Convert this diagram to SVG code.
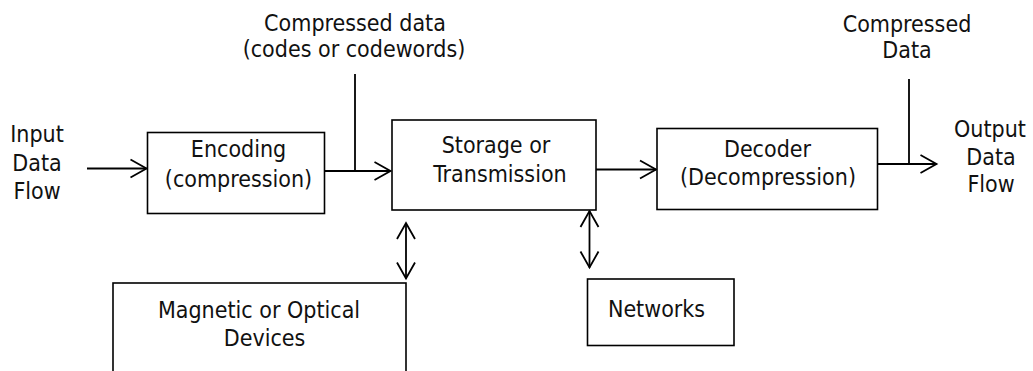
<svg xmlns="http://www.w3.org/2000/svg" width="1033" height="371" viewBox="0 0 1033 371">
<style>
  .box { fill: #fff; stroke: #000; stroke-width: 1.6; }
  .ln { fill: none; stroke: #000; stroke-width: 1.8; }
  text { font-family: "DejaVu Sans Condensed", "DejaVu Sans", sans-serif; font-stretch: condensed; font-size: 23px; fill: #111; text-anchor: middle; }
</style>
<defs>
  <marker id="ah" markerUnits="userSpaceOnUse" markerWidth="20" markerHeight="22" viewBox="-18 -11 20 22" refX="0" refY="0" orient="auto-start-reverse">
    <path d="M-16,-9 L0,0 L-16,9" fill="none" stroke="#000" stroke-width="1.8"/>
  </marker>
</defs>
<g id="connectors">
  <line class="ln" x1="87" y1="168.5" x2="146.5" y2="168.5" marker-end="url(#ah)"/>
  <line class="ln" x1="324" y1="171" x2="390.5" y2="171" marker-end="url(#ah)"/>
  <line class="ln" x1="355" y1="74" x2="355" y2="171"/>
  <line class="ln" x1="596" y1="169.5" x2="656" y2="169.5" marker-end="url(#ah)"/>
  <line class="ln" x1="877" y1="164" x2="936.5" y2="164" marker-end="url(#ah)"/>
  <line class="ln" x1="909" y1="79" x2="909" y2="164"/>
  <line class="ln" x1="406" y1="223" x2="406" y2="278.5" marker-start="url(#ah)" marker-end="url(#ah)"/>
  <line class="ln" x1="589.5" y1="211" x2="589.5" y2="267.5" marker-start="url(#ah)" marker-end="url(#ah)"/>
</g>
<g id="input-label">
  <text x="37" y="142">Input</text>
  <text x="37" y="171">Data</text>
  <text x="37" y="199">Flow</text>
</g>
<g id="compressed-label-1">
  <text x="355" y="31">Compressed data</text>
  <text x="354" y="57">(codes or codewords)</text>
</g>
<g id="compressed-label-2">
  <text x="907" y="32">Compressed</text>
  <text x="907" y="58">Data</text>
</g>
<g id="output-label">
  <text x="990" y="137">Output</text>
  <text x="991" y="165">Data</text>
  <text x="991" y="192">Flow</text>
</g>
<g id="encoding">
  <rect class="box" x="147.5" y="132.5" width="177" height="81"/>
  <text x="238.5" y="157">Encoding</text>
  <text x="238.5" y="187">(compression)</text>
</g>
<g id="storage">
  <rect class="box" x="392" y="120" width="204" height="90"/>
  <text x="496" y="153">Storage or</text>
  <text x="500" y="182">Transmission</text>
</g>
<g id="decoder">
  <rect class="box" x="657" y="128.5" width="220.5" height="81"/>
  <text x="767.5" y="157">Decoder</text>
  <text x="768" y="185">(Decompression)</text>
</g>
<g id="magnetic">
  <rect class="box" x="113" y="283" width="293" height="100"/>
  <text x="259" y="318">Magnetic or Optical</text>
  <text x="264.5" y="346">Devices</text>
</g>
<g id="networks">
  <rect class="box" x="587.5" y="279" width="146.5" height="66.5"/>
  <text x="656.5" y="317">Networks</text>
</g>
</svg>
